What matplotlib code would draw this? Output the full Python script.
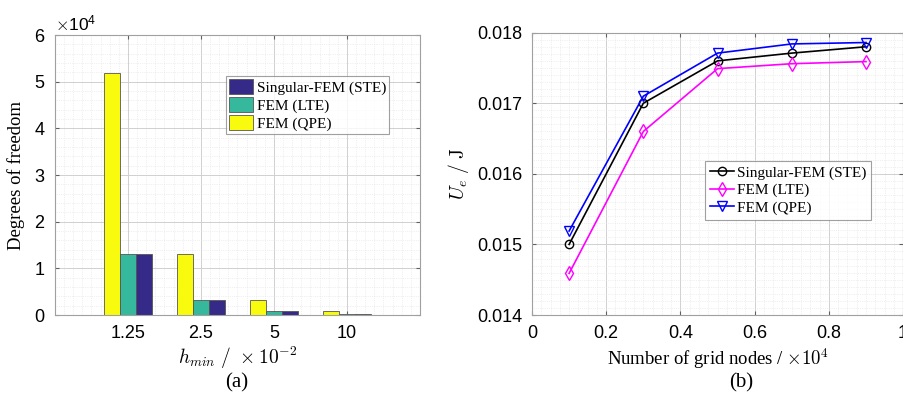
import numpy as np
import matplotlib.pyplot as plt
from matplotlib.ticker import MultipleLocator

plt.rcParams['font.family'] = ['Liberation Sans', 'DejaVu Sans']
plt.rcParams['mathtext.fontset'] = 'cm'

# --- (a) degrees of freedom per mesh size ---
h_labels = ['1.25', '2.5', '5', '10']
dof_ste = [13000, 3300, 820, 210]
dof_lte = [13000, 3300, 820, 210]
dof_qpe = [51900, 13000, 3300, 820]

# --- (b) strain energy vs. number of grid nodes (x1e4) ---
nodes = [0.1, 0.3, 0.5, 0.7, 0.9]
ue_ste = [0.01500, 0.01700, 0.01760, 0.01771, 0.01780]
ue_lte = [0.01459, 0.01660, 0.01749, 0.01756, 0.01759]
ue_qpe = [0.01519, 0.01710, 0.01771, 0.01784, 0.01786]

c_navy = '#352a87'
c_teal = '#36b89d'
c_yell = '#f9fb0e'
serif = ['Liberation Serif', 'DejaVu Serif']
spine_c = '#a0a0a0'

fig = plt.figure(figsize=(9.04, 3.98), dpi=100)
ax1 = fig.add_axes([0.0608, 0.2085, 0.4038, 0.7035])
ax2 = fig.add_axes([0.5885, 0.2085, 0.4105, 0.7095])


def matlab_style(ax):
    ax.set_facecolor('white')
    ax.grid(True, which='major', color='#d0d0d0', linewidth=0.7)
    ax.grid(True, which='minor', color='#e2e2e2', linewidth=0.5, linestyle=':')
    ax.set_axisbelow(True)
    ax.tick_params(which='both', direction='in', top=True, right=True,
                   labelsize=13, color='#606060', pad=7)
    ax.tick_params(which='minor', length=0)
    ax.tick_params(which='major', length=3)
    for s in ax.spines.values():
        s.set_color(spine_c)
        s.set_linewidth(0.8)


# bar chart
x = np.arange(1, len(h_labels) + 1)
w = 0.22
ax1.bar(x - w, dof_qpe, w, color=c_yell, edgecolor='#555555', linewidth=0.6, label='FEM (QPE)')
ax1.bar(x, dof_lte, w, color=c_teal, edgecolor='#555555', linewidth=0.6, label='FEM (LTE)')
ax1.bar(x + w, dof_ste, w, color=c_navy, edgecolor='#555555', linewidth=0.6, label='Singular-FEM (STE)')
ax1.set_xlim(0, 5)
ax1.set_ylim(0, 60000)
ax1.set_xticks(x)
ax1.set_xticklabels(h_labels)
ax1.yaxis.set_major_locator(MultipleLocator(10000))
ax1.yaxis.set_minor_locator(MultipleLocator(2000))
ax1.xaxis.set_minor_locator(MultipleLocator(0.125))
ax1.ticklabel_format(axis='y', style='sci', scilimits=(4, 4), useMathText=True)
matlab_style(ax1)
ax1.yaxis.get_offset_text().set_fontsize(12.5)
ax1.set_ylabel('Degrees of freedom', family=serif, fontsize=13.5, labelpad=6)
ax1.set_xlabel(r'$h_{min}\ /\ \times10^{-2}$', fontsize=14, labelpad=2)
h, l = ax1.get_legend_handles_labels()
leg1 = ax1.legend(h[::-1], l[::-1], loc='upper right', bbox_to_anchor=(0.915, 0.855),
                  prop={'family': serif, 'size': 11}, frameon=True, fancybox=False,
                  edgecolor='#888888', borderpad=0.2, handlelength=1.6, handleheight=1.15,
                  handletextpad=0.2, labelspacing=0.15, borderaxespad=0)
leg1.get_frame().set_linewidth(0.8)

# line chart
ax2.plot(nodes, ue_ste, color='black', marker='o', markersize=6, markerfacecolor='none',
         linewidth=1.2, label='Singular-FEM (STE)')
ax2.plot(nodes, ue_lte, color='#ff00ff', marker='d', markersize=7, markerfacecolor='none',
         linewidth=1.2, label='FEM (LTE)')
ax2.plot(nodes, ue_qpe, color='#0000ff', marker='v', markersize=7, markerfacecolor='none',
         linewidth=1.2, label='FEM (QPE)')
ax2.set_xlim(0, 1)
ax2.set_ylim(0.014, 0.018)
ax2.xaxis.set_minor_locator(MultipleLocator(0.025))
ax2.yaxis.set_minor_locator(MultipleLocator(0.0001))
ax2.set_xticks([0, 0.2, 0.4, 0.6, 0.8, 1.0])
ax2.set_xticklabels(['0', '0.2', '0.4', '0.6', '0.8', '1'])
ax2.set_yticks([0.014, 0.015, 0.016, 0.017, 0.018])
ax2.set_yticklabels(['0.014', '0.015', '0.016', '0.017', '0.018'])
matlab_style(ax2)
ax2.set_ylabel(r'$U_e\ /\ \mathrm{J}$', fontsize=14, labelpad=4)
ax2.set_xlabel(r'Number of grid nodes / $\times10^4$', family=serif, fontsize=13.5, labelpad=3)
leg2 = ax2.legend(loc='upper left', bbox_to_anchor=(0.467, 0.545),
                  prop={'family': serif, 'size': 11}, frameon=True, fancybox=False,
                  edgecolor='#888888', borderpad=0.3, handlelength=1.6,
                  handletextpad=0.15, labelspacing=0.25, borderaxespad=0)
leg2.get_frame().set_linewidth(0.8)

fig.text(0.262, 0.038, '(a)', family=serif, fontsize=15, ha='center', va='center')
fig.text(0.82, 0.038, '(b)', family=serif, fontsize=15, ha='center', va='center')

fig.savefig('out.png', dpi=100)
